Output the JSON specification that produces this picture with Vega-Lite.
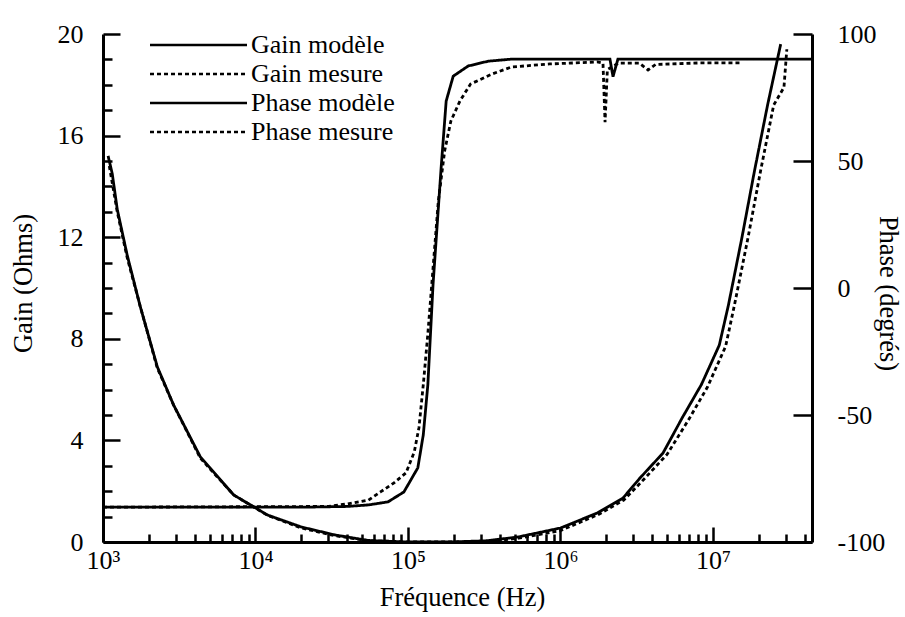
{
  "$schema": "https://vega.github.io/schema/vega-lite/v6.json",
  "autosize": {"type": "none"},
  "width": 709,
  "height": 508,
  "padding": {"left": 103, "top": 34, "right": 93, "bottom": 75},
  "background": "white",
  "config": {
    "view": {"stroke": null},
    "font": "Liberation Serif",
    "axis": {
      "ticks": true,
      "domainColor": "black", "domainWidth": 3,
      "tickColor": "black", "tickWidth": 2.5,
      "labelFont": "Liberation Serif", "labelFontSize": 26, "labelColor": "black",
      "titleFont": "Liberation Serif", "titleFontSize": 26.5, "titleFontWeight": "normal", "titleColor": "black",
      "grid": false, "labelOverlap": false, "labelFlush": false, "labelBound": false
    },
    "legend": {
      "orient": "none", "legendX": 129, "legendY": -2, "title": null,
      "symbolType": "M-19,0H0.4", "symbolSize": 100, "symbolStrokeWidth": 2.5,
      "symbolStrokeColor": "black", "symbolFillColor": "transparent",
      "labelFont": "Liberation Serif", "labelFontSize": 26, "labelColor": "black",
      "labelOffset": -7, "rowPadding": 3, "padding": 0, "labelLimit": 300
    }
  },
  "datasets": {
    "gainModele": [
      {"f": 1080, "v": 15.2, "serie": "Gain modèle"},
      {"f": 1150, "v": 14.5, "serie": "Gain modèle"},
      {"f": 1240, "v": 13.1, "serie": "Gain modèle"},
      {"f": 1440, "v": 11.3, "serie": "Gain modèle"},
      {"f": 1750, "v": 9.3, "serie": "Gain modèle"},
      {"f": 2270, "v": 6.9, "serie": "Gain modèle"},
      {"f": 2900, "v": 5.4, "serie": "Gain modèle"},
      {"f": 4350, "v": 3.35, "serie": "Gain modèle"},
      {"f": 7200, "v": 1.85, "serie": "Gain modèle"},
      {"f": 12000, "v": 1.06, "serie": "Gain modèle"},
      {"f": 20000, "v": 0.59, "serie": "Gain modèle"},
      {"f": 33000, "v": 0.28, "serie": "Gain modèle"},
      {"f": 55000, "v": 0.06, "serie": "Gain modèle"},
      {"f": 100000, "v": 0.0, "serie": "Gain modèle"},
      {"f": 190000, "v": 0.0, "serie": "Gain modèle"},
      {"f": 330000, "v": 0.05, "serie": "Gain modèle"},
      {"f": 530000, "v": 0.2, "serie": "Gain modèle"},
      {"f": 1000000, "v": 0.55, "serie": "Gain modèle"},
      {"f": 1740000, "v": 1.14, "serie": "Gain modèle"},
      {"f": 2570000, "v": 1.73, "serie": "Gain modèle"},
      {"f": 3300000, "v": 2.5, "serie": "Gain modèle"},
      {"f": 4700000, "v": 3.5, "serie": "Gain modèle"},
      {"f": 6300000, "v": 4.9, "serie": "Gain modèle"},
      {"f": 8400000, "v": 6.2, "serie": "Gain modèle"},
      {"f": 11000000, "v": 7.75, "serie": "Gain modèle"},
      {"f": 12600000, "v": 9.3, "serie": "Gain modèle"},
      {"f": 15500000, "v": 12.0, "serie": "Gain modèle"},
      {"f": 18700000, "v": 14.6, "serie": "Gain modèle"},
      {"f": 22800000, "v": 17.2, "serie": "Gain modèle"},
      {"f": 27800000, "v": 19.6, "serie": "Gain modèle"}
    ],
    "gainMesure": [
      {"f": 1100, "v": 14.8, "serie": "Gain mesure"},
      {"f": 1240, "v": 13.0, "serie": "Gain mesure"},
      {"f": 1440, "v": 11.2, "serie": "Gain mesure"},
      {"f": 1750, "v": 9.3, "serie": "Gain mesure"},
      {"f": 2270, "v": 6.85, "serie": "Gain mesure"},
      {"f": 2900, "v": 5.4, "serie": "Gain mesure"},
      {"f": 4350, "v": 3.3, "serie": "Gain mesure"},
      {"f": 7200, "v": 1.85, "serie": "Gain mesure"},
      {"f": 12000, "v": 1.05, "serie": "Gain mesure"},
      {"f": 20000, "v": 0.55, "serie": "Gain mesure"},
      {"f": 33000, "v": 0.25, "serie": "Gain mesure"},
      {"f": 55000, "v": 0.05, "serie": "Gain mesure"},
      {"f": 100000, "v": 0.0, "serie": "Gain mesure"},
      {"f": 200000, "v": 0.0, "serie": "Gain mesure"},
      {"f": 330000, "v": 0.0, "serie": "Gain mesure"},
      {"f": 530000, "v": 0.15, "serie": "Gain mesure"},
      {"f": 1000000, "v": 0.45, "serie": "Gain mesure"},
      {"f": 1800000, "v": 1.1, "serie": "Gain mesure"},
      {"f": 2600000, "v": 1.65, "serie": "Gain mesure"},
      {"f": 3500000, "v": 2.45, "serie": "Gain mesure"},
      {"f": 5000000, "v": 3.45, "serie": "Gain mesure"},
      {"f": 6900000, "v": 4.8, "serie": "Gain mesure"},
      {"f": 9200000, "v": 6.1, "serie": "Gain mesure"},
      {"f": 12100000, "v": 7.7, "serie": "Gain mesure"},
      {"f": 13800000, "v": 9.3, "serie": "Gain mesure"},
      {"f": 17000000, "v": 12.0, "serie": "Gain mesure"},
      {"f": 20500000, "v": 14.6, "serie": "Gain mesure"},
      {"f": 25000000, "v": 17.2, "serie": "Gain mesure"},
      {"f": 29200000, "v": 17.9, "serie": "Gain mesure"},
      {"f": 30500000, "v": 19.4, "serie": "Gain mesure"}
    ],
    "phase": [
      {"f": 1000, "v": -86.3, "serie": "Phase modèle"},
      {"f": 20000, "v": -86.3, "serie": "Phase modèle"},
      {"f": 40000, "v": -86.0, "serie": "Phase modèle"},
      {"f": 55000, "v": -85.4, "serie": "Phase modèle"},
      {"f": 74000, "v": -84.2, "serie": "Phase modèle"},
      {"f": 94000, "v": -80.3, "serie": "Phase modèle"},
      {"f": 116000, "v": -70.8, "serie": "Phase modèle"},
      {"f": 126000, "v": -57.8, "serie": "Phase modèle"},
      {"f": 135000, "v": -38, "serie": "Phase modèle"},
      {"f": 146000, "v": 1.4, "serie": "Phase modèle"},
      {"f": 165000, "v": 47.5, "serie": "Phase modèle"},
      {"f": 178000, "v": 73.6, "serie": "Phase modèle"},
      {"f": 198000, "v": 83.4, "serie": "Phase modèle"},
      {"f": 248000, "v": 87.4, "serie": "Phase modèle"},
      {"f": 336000, "v": 89.3, "serie": "Phase modèle"},
      {"f": 476000, "v": 90.1, "serie": "Phase modèle"},
      {"f": 2110000, "v": 90.1, "serie": "Phase modèle"},
      {"f": 2210000, "v": 83.2, "serie": "Phase modèle"},
      {"f": 2380000, "v": 90.1, "serie": "Phase modèle"},
      {"f": 44600000, "v": 90.1, "serie": "Phase modèle"},
      {"f": 1000, "v": -86.3, "serie": "Phase mesure"},
      {"f": 30000, "v": -86.0, "serie": "Phase mesure"},
      {"f": 40000, "v": -85.0, "serie": "Phase mesure"},
      {"f": 55000, "v": -83.5, "serie": "Phase mesure"},
      {"f": 66000, "v": -80.3, "serie": "Phase mesure"},
      {"f": 81000, "v": -76.7, "serie": "Phase mesure"},
      {"f": 97000, "v": -72.8, "serie": "Phase mesure"},
      {"f": 110000, "v": -64.5, "serie": "Phase mesure"},
      {"f": 118000, "v": -55, "serie": "Phase mesure"},
      {"f": 126000, "v": -38, "serie": "Phase mesure"},
      {"f": 135000, "v": -18, "serie": "Phase mesure"},
      {"f": 158000, "v": 34, "serie": "Phase mesure"},
      {"f": 174000, "v": 54, "serie": "Phase mesure"},
      {"f": 191000, "v": 65.7, "serie": "Phase mesure"},
      {"f": 219000, "v": 73.6, "serie": "Phase mesure"},
      {"f": 257000, "v": 80.3, "serie": "Phase mesure"},
      {"f": 355000, "v": 84.2, "serie": "Phase mesure"},
      {"f": 476000, "v": 87.0, "serie": "Phase mesure"},
      {"f": 850000, "v": 88.2, "serie": "Phase mesure"},
      {"f": 1740000, "v": 89.0, "serie": "Phase mesure"},
      {"f": 1900000, "v": 88.5, "serie": "Phase mesure"},
      {"f": 1960000, "v": 65.3, "serie": "Phase mesure"},
      {"f": 2030000, "v": 86.0, "serie": "Phase mesure"},
      {"f": 2400000, "v": 88.5, "serie": "Phase mesure"},
      {"f": 3300000, "v": 88.5, "serie": "Phase mesure"},
      {"f": 3750000, "v": 85.8, "serie": "Phase mesure"},
      {"f": 4200000, "v": 88.0, "serie": "Phase mesure"},
      {"f": 8000000, "v": 88.6, "serie": "Phase mesure"},
      {"f": 15000000, "v": 88.6, "serie": "Phase mesure"}
    ]
  },
  "layer": [
    {
      "data": {"name": "gainModele"},
      "mark": {"type": "line", "color": "black", "strokeWidth": 2.8, "clip": true},
      "encoding": {
        "x": {
          "field": "f", "type": "quantitative",
          "scale": {"type": "log", "domain": [1000, 44600000]},
          "axis": {
            "orient": "bottom",
            "title": "Fréquence (Hz)",
            "titleX": 359, "titleY": 55, "titleAlign": "center", "titleBaseline": "middle",
            "values": [1000, 10000, 100000, 1000000, 10000000],
            "labelExpr": "datum.value === 1000 ? '10³' : datum.value === 10000 ? '10⁴' : datum.value === 100000 ? '10⁵' : datum.value === 1000000 ? '10⁶' : '10⁷'",
            "tickSize": -15,
            "labelPadding": 20
          }
        },
        "y": {
          "field": "v", "type": "quantitative",
          "scale": {"domain": [0, 20], "nice": false, "zero": false},
          "axis": {
            "orient": "left",
            "title": "Gain (Ohms)",
            "titleX": -80, "titleY": 249, "titleAlign": "center", "titleBaseline": "middle", "titleAngle": -90,
            "values": [0, 4, 8, 12, 16, 20],
            "tickSize": -17,
            "labelPadding": 37
          }
        },
        "strokeDash": {
          "field": "serie", "type": "nominal",
          "scale": {"domain": ["Gain modèle", "Gain mesure", "Phase modèle", "Phase mesure"], "range": [[1, 0], [4, 3], [1, 0], [4, 3]]}
        }
      }
    },
    {
      "data": {"name": "gainMesure"},
      "mark": {"type": "line", "color": "black", "strokeWidth": 2.8, "clip": true},
      "encoding": {
        "x": {
          "field": "f", "type": "quantitative",
          "scale": {"type": "log", "domain": [1000, 44600000]},
          "axis": {
            "orient": "bottom", "title": null, "labels": false, "domain": false,
            "values": [2000,3000,4000,5000,6000,7000,8000,9000,20000,30000,40000,50000,60000,70000,80000,90000,200000,300000,400000,500000,600000,700000,800000,900000,2000000,3000000,4000000,5000000,6000000,7000000,8000000,9000000,20000000,30000000,40000000],
            "tickSize": -8
          }
        },
        "y": {
          "field": "v", "type": "quantitative",
          "scale": {"domain": [0, 20], "nice": false, "zero": false},
          "axis": {
            "orient": "left", "title": null, "labels": false, "domain": false,
            "values": [1, 2, 3, 5, 6, 7, 9, 10, 11, 13, 14, 15, 17, 18, 19],
            "tickSize": -9
          }
        },
        "strokeDash": {
          "field": "serie", "type": "nominal",
          "scale": {"domain": ["Gain modèle", "Gain mesure", "Phase modèle", "Phase mesure"], "range": [[1, 0], [4, 3], [1, 0], [4, 3]]}
        }
      }
    },
    {
      "data": {"name": "phase"},
      "mark": {"type": "line", "color": "black", "strokeWidth": 2.8, "clip": true},
      "encoding": {
        "x": {"field": "f", "type": "quantitative", "scale": {"type": "log", "domain": [1000, 44600000]}, "axis": null},
        "y": {
          "field": "v", "type": "quantitative",
          "scale": {"domain": [-100, 100], "nice": false, "zero": false},
          "axis": {
            "orient": "right",
            "title": "Phase (degrés)",
            "titleX": 75, "titleY": 259, "titleAlign": "center", "titleBaseline": "middle", "titleAngle": 90,
            "values": [-100, -50, 0, 50, 100],
            "labelExpr": "replace(datum.label, '−', '-')",
            "tickSize": -19,
            "labelPadding": 44
          }
        },
        "strokeDash": {
          "field": "serie", "type": "nominal",
          "scale": {"domain": ["Gain modèle", "Gain mesure", "Phase modèle", "Phase mesure"], "range": [[1, 0], [4, 3], [1, 0], [4, 3]]}
        }
      }
    }
  ],
  "resolve": {"scale": {"y": "independent"}, "axis": {"x": "independent", "y": "independent"}}
}
